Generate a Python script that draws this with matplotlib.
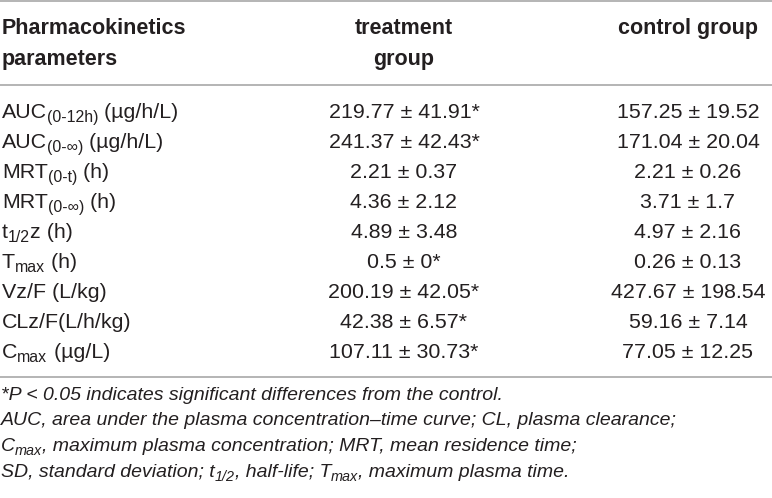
import matplotlib
matplotlib.use("Agg")
import matplotlib.pyplot as plt

# ---- data ----
param_labels = [
    [("AUC", "n"), ("(0-12h)", "s"), (" (µg/h/L)", "n")],
    [("AUC", "n"), ("(0-∞)", "s"), (" (µg/h/L)", "n")],
    [("MRT", "n"), ("(0-t)", "s"), (" (h)", "n")],
    [("MRT", "n"), ("(0-∞)", "s"), (" (h)", "n")],
    [("t", "n"), ("1/2", "s"), ("z (h)", "n")],
    [("T", "n"), ("max", "s"), (" (h)", "n")],
    [("Vz/F (L/kg)", "n")],
    [("CLz/F(L/h/kg)", "n")],
    [("C", "n"), ("max", "s"), (" (µg/L)", "n")],
]
treat_mean = [219.77, 241.37, 2.21, 4.36, 4.89, 0.5, 200.19, 42.38, 107.11]
treat_sd = [41.91, 42.43, 0.37, 2.12, 3.48, 0, 42.05, 6.57, 30.73]
treat_sig = [True, True, False, False, False, True, True, True, True]
ctrl_mean = [157.25, 171.04, 2.21, 3.71, 4.97, 0.26, 427.67, 59.16, 77.05]
ctrl_sd = [19.52, 20.04, 0.26, 1.7, 2.16, 0.13, 198.54, 7.14, 12.25]

header_param = ["Pharmacokinetics", "parameters"]
header_treat = ["treatment", "group"]
header_ctrl = ["control group"]

footnotes = [
    [("*P < 0.05 indicates significant differences from the control.", "n")],
    [("AUC, area under the plasma concentration–time curve; CL, plasma clearance;", "n")],
    [("C", "n"), ("max", "s"), (", maximum plasma concentration; MRT, mean residence time;", "n")],
    [("SD, standard deviation; t", "n"), ("1/2", "s"), (", half-life; T", "n"),
     ("max", "s"), (", maximum plasma time.", "n")],
]

# ---- figure ----
W, H = 772, 498
fig = plt.figure(figsize=(W / 100, H / 100), dpi=100)
ax = fig.add_axes([0, 0, 1, 1])
ax.set_xlim(0, W)
ax.set_ylim(H, 0)
ax.axis("off")

FONT = "Liberation Sans"
TXT = "#231f20"
RULE = "#a0a0a0"
fs_body = 15.4
fs_head = 15.5
fs_foot = 14.0

renderer = fig.canvas.get_renderer()


def text_width(t):
    bb = t.get_window_extent(renderer=renderer)
    return bb.width  # pixels == data units here


def draw_segments(x, y, segs, size, style="normal", weight="normal"):
    for s, kind in segs:
        if kind == "s":
            t = ax.text(x, y + size * 0.36, s, fontsize=size * 0.74, family=FONT,
                        style=style, weight=weight, color=TXT, va="center", ha="left")
        else:
            t = ax.text(x, y, s, fontsize=size, family=FONT, style=style,
                        weight=weight, color=TXT, va="center", ha="left")
        x += text_width(t)


# rules
ax.hlines([1, 85, 377], 0, W, colors=RULE, linewidth=1.1)

# header
col_param_x = 2
col_treat_x = 404
col_ctrl_x = 688
hdr_y = [28, 59]
for i, s in enumerate(header_param):
    ax.text(col_param_x, hdr_y[i], s, fontsize=fs_head, family=FONT, weight="bold",
            color=TXT, va="center", ha="left")
for i, s in enumerate(header_treat):
    ax.text(col_treat_x, hdr_y[i], s, fontsize=fs_head, family=FONT, weight="bold",
            color=TXT, va="center", ha="center")
for i, s in enumerate(header_ctrl):
    ax.text(col_ctrl_x, hdr_y[i], s, fontsize=fs_head, family=FONT, weight="bold",
            color=TXT, va="center", ha="center")

# body rows
row_y0 = 112
row_dy = 30
for i, segs in enumerate(param_labels):
    y = row_y0 + i * row_dy
    draw_segments(col_param_x, y, segs, fs_body)
    tstr = "{:g} ± {:g}".format(treat_mean[i], treat_sd[i]) + ("*" if treat_sig[i] else "")
    ax.text(col_treat_x, y, tstr, fontsize=fs_body, family=FONT, color=TXT,
            va="center", ha="center")
    cstr = "{:g} ± {:g}".format(ctrl_mean[i], ctrl_sd[i])
    ax.text(col_ctrl_x, y, cstr, fontsize=fs_body, family=FONT, color=TXT,
            va="center", ha="center")

# footnotes
foot_y0 = 395
foot_dy = 25.7
for i, segs in enumerate(footnotes):
    draw_segments(1, foot_y0 + i * foot_dy, segs, fs_foot, style="italic")

fig.savefig("out.png", dpi=100)
